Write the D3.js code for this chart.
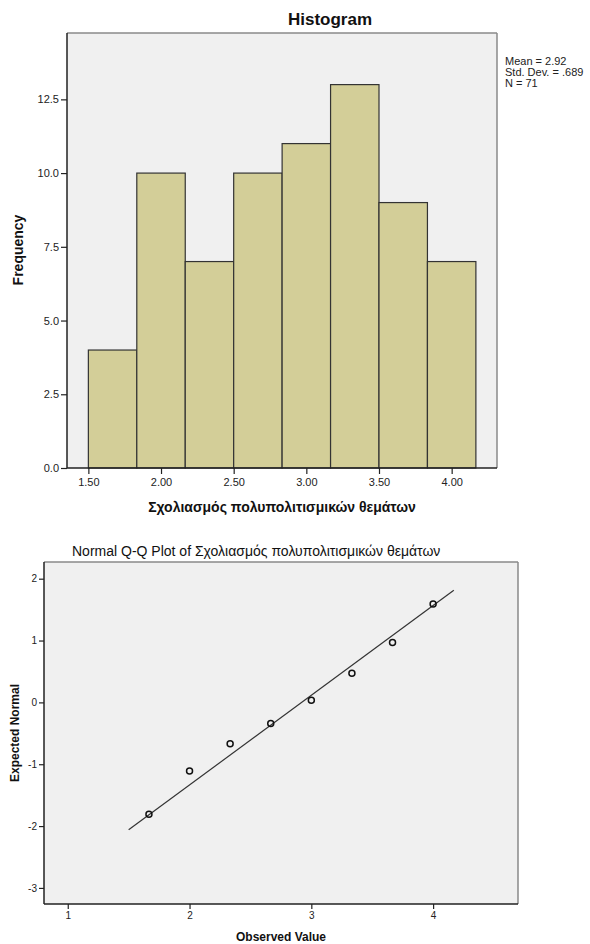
<!DOCTYPE html>
<html>
<head>
<meta charset="utf-8">
<script src="https://cdn.jsdelivr.net/npm/d3@7"></script>
<style>
  html, body { margin: 0; padding: 0; background: #fff; }
  svg { display: block; font-family: Arial, "Liberation Sans", sans-serif; }
</style>
</head>
<body>
<svg id="chart" width="590" height="944"></svg>
<script>
// ---- Data ----
const binEdges = [1.5, 1.8333, 2.1667, 2.5, 2.8333, 3.1667, 3.5, 3.8333, 4.1667];
const binCounts = [4, 10, 7, 10, 11, 13, 9, 7];
const histYTicks = [0, 2.5, 5, 7.5, 10, 12.5];
const histXTicks = [1.5, 2.0, 2.5, 3.0, 3.5, 4.0];
const statsLines = ["Mean = 2.92", "Std. Dev. = .689", "N = 71"];
const statMean = 2.92;
const statSd = 0.689;

const qqObserved = [1.6667, 2.0, 2.3333, 2.6667, 3.0, 3.3333, 3.6667, 4.0];
const qqExpected = [-1.81, -1.11, -0.67, -0.34, 0.035, 0.47, 0.97, 1.59];
const qqLineX = [1.5, 4.17];
const qqXTicks = [1, 2, 3, 4];
const qqYTicks = [-3, -2, -1, 0, 1, 2];

const varName = "Σχολιασμός πολυπολιτισμικών θεμάτων";

// ---- Styles ----
const bg = "#f0f0f0";
const barFill = "#d3ce98";
const svg = d3.select("#chart");

function styleAxis(g, size) {
  g.select(".domain").remove();
  g.selectAll(".tick line").attr("stroke", "#222").attr("stroke-width", 1.2);
  g.selectAll(".tick text").attr("fill", "#222").style("font-size", size + "px")
    .style("font-family", "Arial, 'Liberation Sans', sans-serif");
}
const intFmt = d => String(d);

// ================= Histogram =================
const hx = d3.scaleLinear().domain([1.353, 4.312]).range([67, 497]);
const hy = d3.scaleLinear().domain([0, 14.75]).range([468, 33]);

svg.append("rect").attr("x", hx.range()[0]).attr("y", hy.range()[1])
  .attr("width", hx.range()[1] - hx.range()[0]).attr("height", hy.range()[0] - hy.range()[1])
  .attr("fill", bg);

const bins = binCounts.map((c, i) => ({ x0: binEdges[i], x1: binEdges[i + 1], c }));
svg.append("g").selectAll("rect").data(bins).join("rect")
  .attr("x", d => hx(d.x0)).attr("y", d => hy(d.c))
  .attr("width", d => hx(d.x1) - hx(d.x0)).attr("height", d => hy(0) - hy(d.c))
  .attr("fill", barFill).attr("stroke", "#333").attr("stroke-width", 1.2);

// frame
const hf = svg.append("g").attr("fill", "none");
hf.append("line").attr("x1", 67).attr("x2", 497).attr("y1", 33).attr("y2", 33).attr("stroke", "#8a8a8a").attr("stroke-width", 1.5);
hf.append("line").attr("x1", 497).attr("x2", 497).attr("y1", 33).attr("y2", 468).attr("stroke", "#8a8a8a").attr("stroke-width", 1.5);
hf.append("line").attr("x1", 67).attr("x2", 67).attr("y1", 33).attr("y2", 468).attr("stroke", "#222").attr("stroke-width", 1.5);
hf.append("line").attr("x1", 67).attr("x2", 497).attr("y1", 468).attr("y2", 468).attr("stroke", "#222").attr("stroke-width", 1.5);

svg.append("g").attr("transform", "translate(67,0)")
  .call(d3.axisLeft(hy).tickValues(histYTicks).tickFormat(d3.format(".1f")).tickSize(6).tickPadding(2))
  .call(g => styleAxis(g, 11));
svg.append("g").attr("transform", "translate(0,468)")
  .call(d3.axisBottom(hx).tickValues(histXTicks).tickFormat(d3.format(".2f")).tickSize(6).tickPadding(4))
  .call(g => styleAxis(g, 11));

svg.append("text").attr("x", 330).attr("y", 25).attr("text-anchor", "middle")
  .style("font-size", "17px").style("font-weight", "bold").attr("fill", "#111").text("Histogram");

svg.append("g").selectAll("text").data(statsLines).join("text")
  .attr("x", 505).attr("y", (d, i) => 65 + i * 11)
  .style("font-size", "11px").attr("fill", "#222").text(d => d);

svg.append("text").attr("transform", "translate(23,250) rotate(-90)").attr("text-anchor", "middle")
  .style("font-size", "14px").style("font-weight", "bold").attr("fill", "#111").text("Frequency");
svg.append("text").attr("x", 282).attr("y", 512).attr("text-anchor", "middle")
  .style("font-size", "14px").style("font-weight", "bold").attr("fill", "#111").text(varName);

// ================= Q-Q Plot =================
const qx = d3.scaleLinear().domain([0.805, 4.697]).range([44, 518]);
const qy = d3.scaleLinear().domain([-3.26, 2.27]).range([904, 562]);

svg.append("rect").attr("x", 44).attr("y", 562).attr("width", 518 - 44).attr("height", 904 - 562).attr("fill", bg);

const qf = svg.append("g");
qf.append("line").attr("x1", 44).attr("x2", 518).attr("y1", 562).attr("y2", 562).attr("stroke", "#8a8a8a").attr("stroke-width", 1.5);
qf.append("line").attr("x1", 518).attr("x2", 518).attr("y1", 562).attr("y2", 904).attr("stroke", "#8a8a8a").attr("stroke-width", 1.5);
qf.append("line").attr("x1", 44).attr("x2", 44).attr("y1", 562).attr("y2", 904).attr("stroke", "#222").attr("stroke-width", 1.5);
qf.append("line").attr("x1", 44).attr("x2", 518).attr("y1", 904).attr("y2", 904).attr("stroke", "#222").attr("stroke-width", 1.5);

// reference line from mean / sd
const lineData = qqLineX.map(x => [x, (x - statMean) / statSd]);
svg.append("path").datum(lineData)
  .attr("d", d3.line().x(d => qx(d[0])).y(d => qy(d[1])))
  .attr("stroke", "#333").attr("stroke-width", 1.2).attr("fill", "none");

svg.append("g").selectAll("circle").data(qqObserved.map((v, i) => [v, qqExpected[i]])).join("circle")
  .attr("cx", d => qx(d[0])).attr("cy", d => qy(d[1])).attr("r", 3)
  .attr("fill", "none").attr("stroke", "#111").attr("stroke-width", 1.5);

svg.append("g").attr("transform", "translate(44,0)")
  .call(d3.axisLeft(qy).tickValues(qqYTicks).tickFormat(intFmt).tickSize(5).tickPadding(2))
  .call(g => styleAxis(g, 10));
svg.append("g").attr("transform", "translate(0,904)")
  .call(d3.axisBottom(qx).tickValues(qqXTicks).tickFormat(intFmt).tickSize(5).tickPadding(3))
  .call(g => styleAxis(g, 10));

svg.append("text").attr("x", 72).attr("y", 556)
  .style("font-size", "14px").attr("fill", "#111").text("Normal Q-Q Plot of " + varName);
svg.append("text").attr("transform", "translate(19,733) rotate(-90)").attr("text-anchor", "middle")
  .style("font-size", "12px").style("font-weight", "bold").attr("fill", "#111").text("Expected Normal");
svg.append("text").attr("x", 281).attr("y", 941).attr("text-anchor", "middle")
  .style("font-size", "12px").style("font-weight", "bold").attr("fill", "#111").text("Observed Value");
</script>
</body>
</html>
